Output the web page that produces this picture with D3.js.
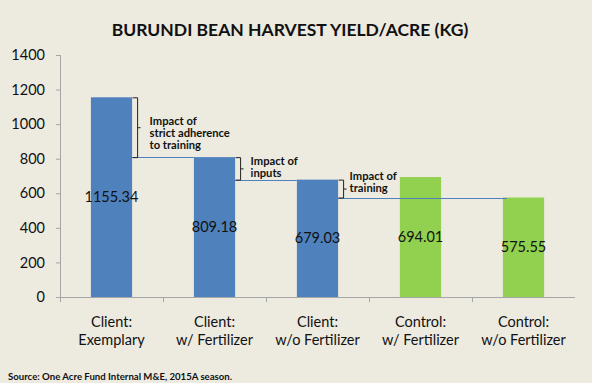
<!DOCTYPE html>
<html><head><meta charset="utf-8">
<script src="https://cdn.jsdelivr.net/npm/d3@7"></script>
<style>
html,body{margin:0;padding:0;background:#fff;}
svg{display:block;}
</style></head>
<body>
<script>
const categories = [["Client:","Exemplary"],["Client:","w/ Fertilizer"],["Client:","w/o Fertilizer"],["Control:","w/ Fertilizer"],["Control:","w/o Fertilizer"]];
const values = [1155.34, 809.18, 679.03, 694.01, 575.55];
const groups = ["client","client","client","control","control"];
const yTicks = [0,200,400,600,800,1000,1200,1400];
const annotations = [
  {from:0, to:1, top:0, bottom:1, lines:["Impact of","strict adherence","to training"]},
  {from:1, to:2, top:1, bottom:2, lines:["Impact of","inputs"]},
  {from:2, to:4, top:2, bottom:4, lines:["Impact of","training"]}
];
const title = "BURUNDI BEAN HARVEST YIELD/ACRE (KG)";
const source = "Source:  One Acre Fund Internal M&E, 2015A season.";

const W = 592, H = 387;
const colors = {client:"#4F81BD", control:"#92D050"};
const font = "Lato, 'Open Sans', sans-serif";

const svg = d3.select("body").append("svg").attr("width", W).attr("height", H);
svg.append("rect").attr("width", W).attr("height", 383).attr("fill", "#EDEAE0");

const x = d3.scaleBand().domain(d3.range(categories.length)).range([60, 575]).paddingInner(0.6).paddingOuter(0.3);
const y = d3.scaleLinear().domain([0, 1400]).range([297, 55]);

svg.append("text").attr("x", 290).attr("y", 36).attr("text-anchor", "middle")
  .attr("font-family", font).attr("font-weight", "bold").attr("font-size", 17.5).attr("fill", "#111")
  .text(title);

// y axis
const yAxis = svg.append("g").attr("transform", "translate(60,0)")
  .call(d3.axisLeft(y).tickValues(yTicks).tickSize(4).tickPadding(11).tickFormat(d3.format("d")));
yAxis.select(".domain").attr("stroke", "#A6A6A6").attr("d", "M0.5,55V297.5");
yAxis.selectAll(".tick line").attr("stroke", "#A6A6A6");
yAxis.selectAll(".tick text").attr("font-family", font).attr("font-size", 14.5).attr("fill", "#111");

// x axis with category boundary ticks
const xg = svg.append("g");
xg.append("line").attr("x1", 56).attr("x2", x.range()[1]).attr("y1", 297.5).attr("y2", 297.5).attr("stroke", "#A6A6A6");
d3.range(categories.length).forEach(i => {
  const b = i === 0 ? x.range()[0] : x(i) - x.step() * x.paddingInner() / 2;
  xg.append("line").attr("x1", Math.round(b) + 0.5).attr("x2", Math.round(b) + 0.5).attr("y1", 297).attr("y2", 302).attr("stroke", "#A6A6A6");
});

// bars
svg.selectAll("rect.bar").data(values).join("rect").attr("class", "bar")
  .attr("x", (d, i) => x(i)).attr("width", x.bandwidth())
  .attr("y", d => y(d)).attr("height", d => y(0) - y(d))
  .attr("fill", (d, i) => colors[groups[i]]);

// connector lines
const lineColor = "#4F81BD";
annotations.forEach((a, k) => {
  const lv = values[a.bottom];
  const x1 = k === 2 ? x(a.from) + x.bandwidth() - 10 : x(a.from) + x.bandwidth();
  const x2 = k === 2 ? x(a.to) + 4 : x(a.to);
  svg.append("line").attr("x1", x1).attr("x2", x2).attr("y1", Math.round(y(lv)) + 0.5).attr("y2", Math.round(y(lv)) + 0.5)
    .attr("stroke", lineColor).attr("stroke-width", 1.2);
});

// value labels
svg.selectAll("text.val").data(values).join("text").attr("class", "val")
  .attr("x", (d, i) => x(i) + x.bandwidth() / 2).attr("y", d => y(d / 2)).attr("dy", "0.35em")
  .attr("text-anchor", "middle").attr("font-family", font).attr("font-size", 14.5).attr("fill", "#111")
  .text(d => d.toFixed(2));

// brackets and annotation text
const textGap = [12, 10, 6];
annotations.forEach((a, k) => {
  const xl = x(a.from) + x.bandwidth() + 0.5;
  const xv = xl + 5;
  const yt = y(values[a.top]) + 0.5, yb = y(values[a.bottom]) + 0.5;
  const ym = (yt + yb) / 2;
  svg.append("path").attr("d", `M${xl},${yt}H${xv}V${yb}H${xl}M${xv},${ym}H${xv + 3}`)
    .attr("fill", "none").attr("stroke", "#222").attr("stroke-width", 1);
  const lh = 12;
  const tx = xv + textGap[k];
  const y0 = k === 0 ? ym - 7 : (k === 1 ? yt + 3 : yt - 4);
  a.lines.forEach((l, j) => svg.append("text").attr("x", tx).attr("y", y0 + j * lh).attr("dy", "0.35em")
    .attr("font-family", font).attr("font-weight", "bold").attr("font-size", 11.2).attr("fill", "#111").text(l));
});

// category labels
categories.forEach((c, i) => {
  const t = svg.append("text").attr("text-anchor", "middle").attr("font-family", font).attr("font-size", 14.5).attr("fill", "#111");
  c.forEach((l, j) => t.append("tspan").attr("x", x(i) + x.bandwidth() / 2).attr("y", 322 + j * 18).attr("dy", "0.35em").text(l));
});

svg.append("text").attr("x", 8).attr("y", 377).attr("dy", "0.35em").attr("font-family", font).attr("font-weight", "bold")
  .attr("font-size", 9.6).attr("fill", "#111").text(source);
</script>
</body></html>
